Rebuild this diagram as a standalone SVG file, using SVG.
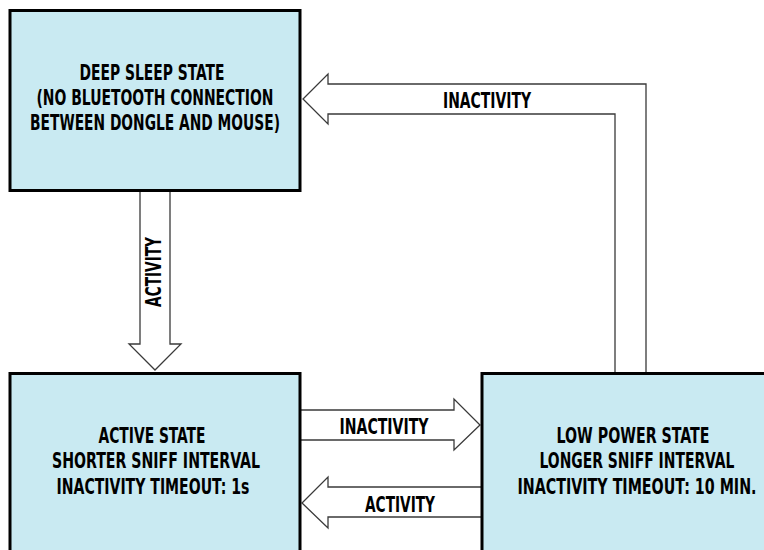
<svg xmlns="http://www.w3.org/2000/svg" width="764" height="550" viewBox="0 0 764 550">
<style>
.box{fill:#c9eaf2;stroke:#000;stroke-width:3}
.arr{fill:#fff;stroke:#3a3a3a;stroke-width:1.3;stroke-linejoin:miter}
text{font-family:"DejaVu Sans Condensed","DejaVu Sans","Liberation Sans",sans-serif;font-weight:bold;font-stretch:condensed;font-size:21.5px;fill:#000;text-anchor:middle}
</style>
<rect width="764" height="550" fill="#fff"/>
<g id="connectors">
<path class="arr" d="M140,191 L140,344 L129,344 L155,370 L181,344 L170,344 L170,191"/>
<path class="arr" d="M646,372 L646,84 L328,84 L328,74 L303,99 L328,124 L328,114 L615,114 L615,372"/>
<path class="arr" d="M301,410 L454,410 L454,399 L480,425 L454,450 L454,440 L301,440"/>
<path class="arr" d="M481,487 L328,487 L328,477 L302,503 L328,528 L328,517 L481,517"/>
<text x="487" y="108" textLength="88" lengthAdjust="spacingAndGlyphs">INACTIVITY</text>
<text x="384" y="434" textLength="89" lengthAdjust="spacingAndGlyphs">INACTIVITY</text>
<text x="400" y="512" textLength="70" lengthAdjust="spacingAndGlyphs">ACTIVITY</text>
<text transform="translate(161,272) rotate(-90)" x="0" y="0" textLength="70" lengthAdjust="spacingAndGlyphs">ACTIVITY</text>
</g>
<g id="deep-sleep">
<rect class="box" x="10" y="10.5" width="290" height="180"/>
<text x="152" y="80" textLength="145" lengthAdjust="spacingAndGlyphs">DEEP SLEEP STATE</text>
<text x="155" y="105" textLength="237" lengthAdjust="spacingAndGlyphs">(NO BLUETOOTH CONNECTION</text>
<text x="155" y="130" textLength="250" lengthAdjust="spacingAndGlyphs">BETWEEN DONGLE AND MOUSE)</text>
</g>
<g id="active">
<rect class="box" x="10" y="373.5" width="290" height="200"/>
<text x="152" y="443" textLength="107" lengthAdjust="spacingAndGlyphs">ACTIVE STATE</text>
<text x="156" y="468" textLength="208" lengthAdjust="spacingAndGlyphs">SHORTER SNIFF INTERVAL</text>
<text x="153" y="494" textLength="193" lengthAdjust="spacingAndGlyphs">INACTIVITY TIMEOUT: 1s</text>
</g>
<g id="low-power">
<rect class="box" x="482" y="373.5" width="290" height="200"/>
<text x="633" y="443" textLength="153" lengthAdjust="spacingAndGlyphs">LOW POWER STATE</text>
<text x="637" y="468" textLength="195" lengthAdjust="spacingAndGlyphs">LONGER SNIFF INTERVAL</text>
<text x="637" y="494" textLength="239" lengthAdjust="spacingAndGlyphs">INACTIVITY TIMEOUT: 10 MIN.</text>
</g>
</svg>
